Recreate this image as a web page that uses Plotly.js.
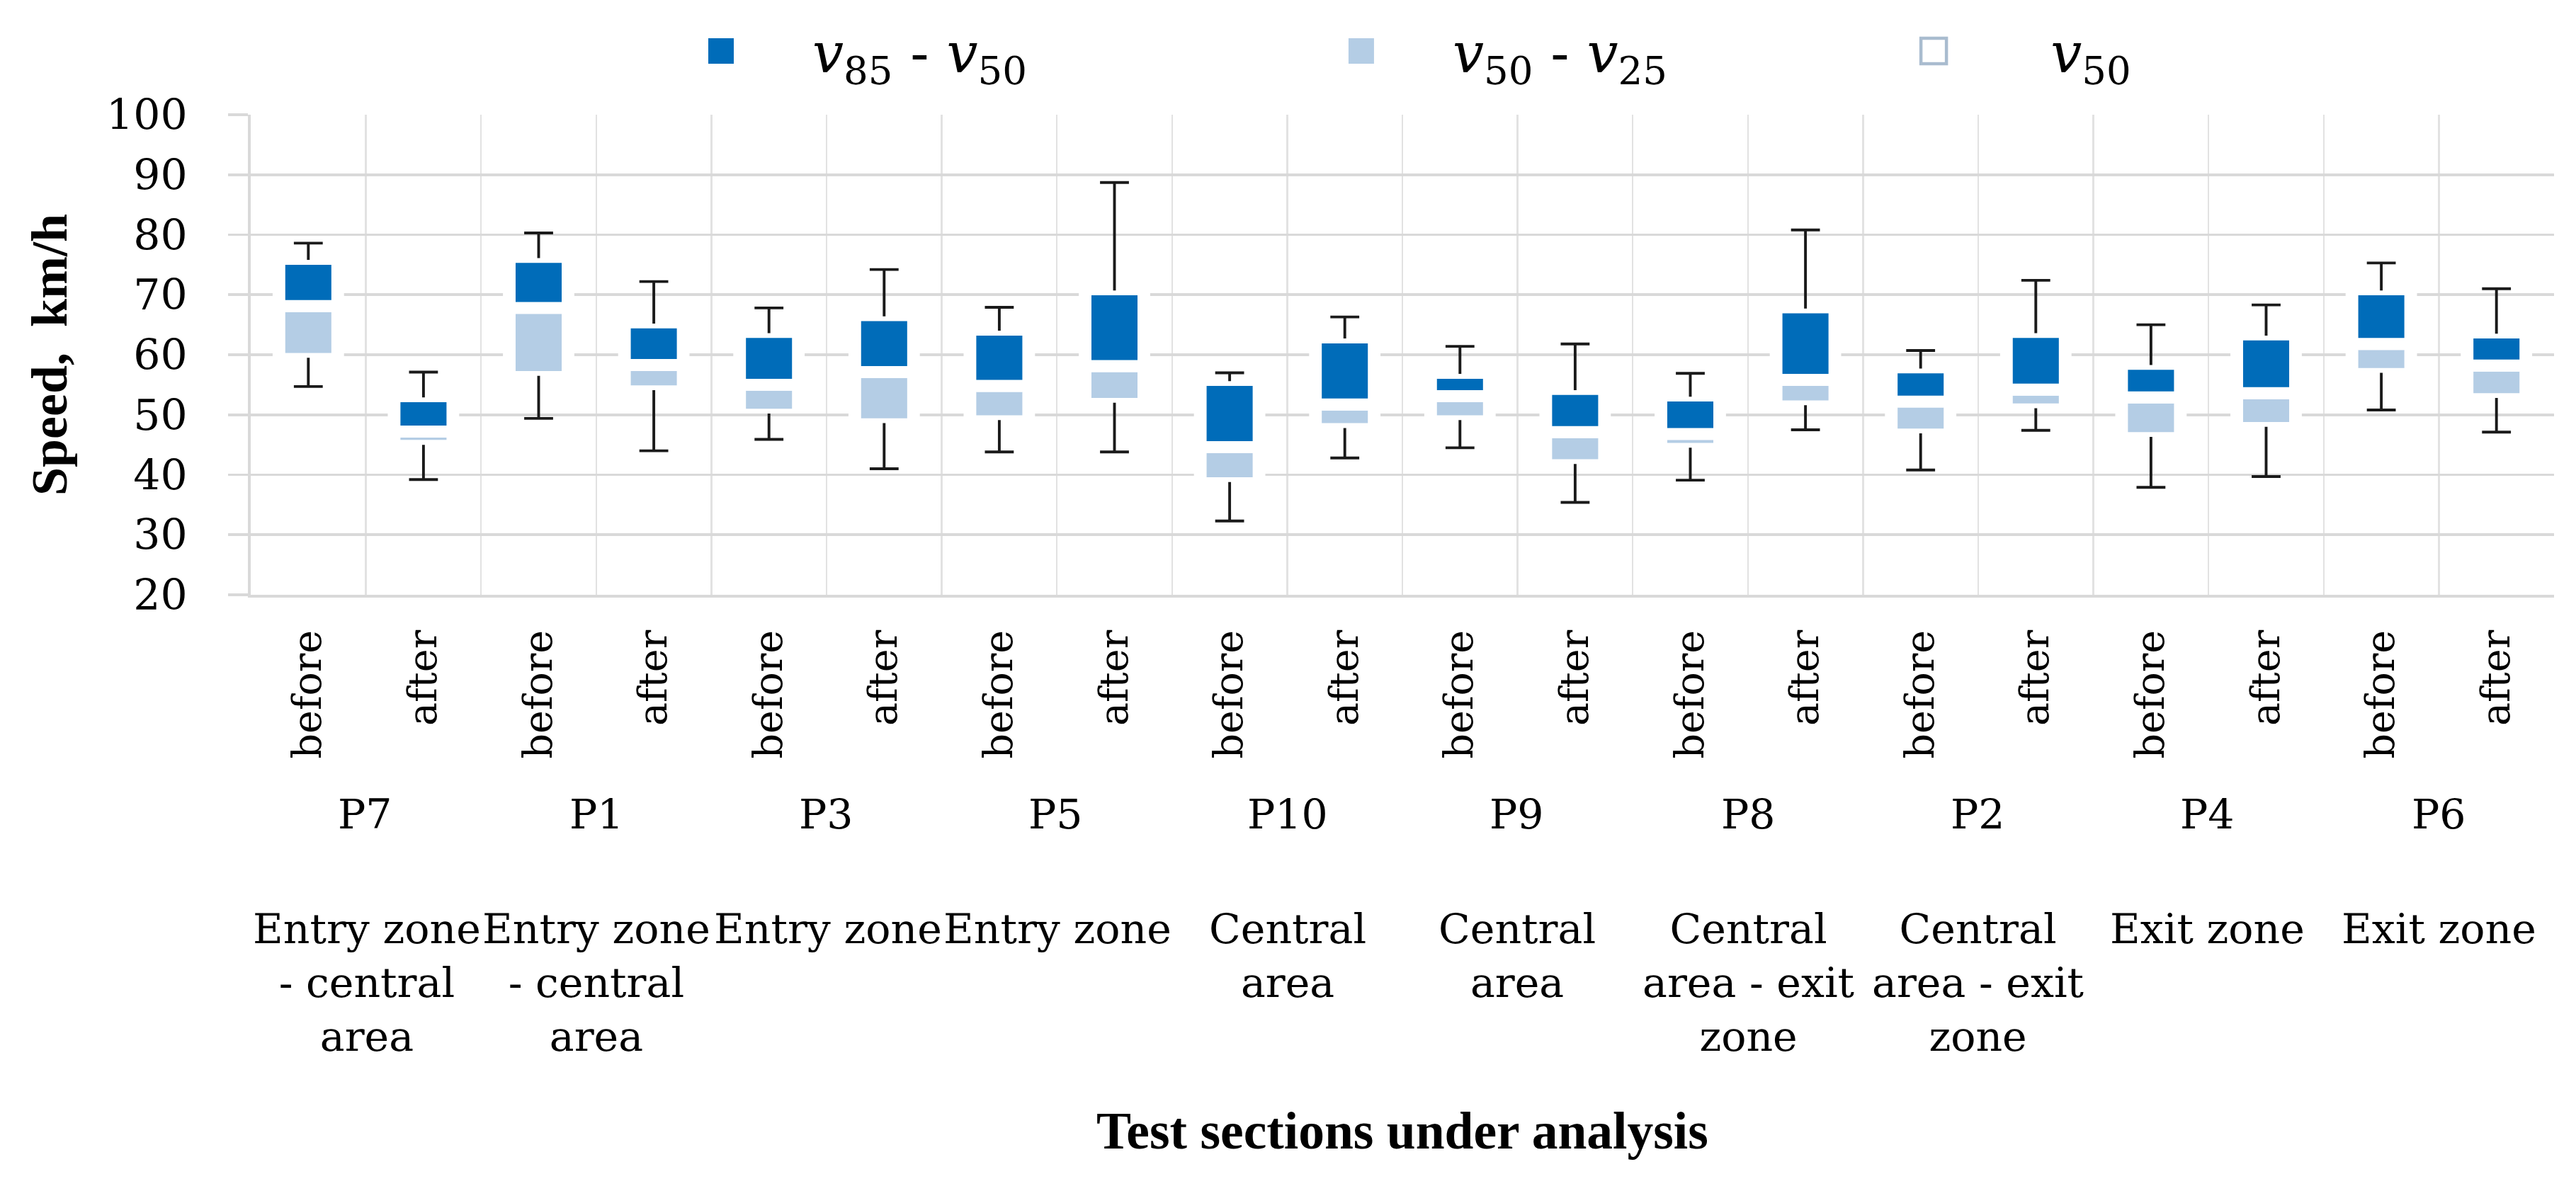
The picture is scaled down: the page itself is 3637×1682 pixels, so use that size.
<!DOCTYPE html>
<html>
<head>
<meta charset="utf-8">
<script src="https://cdn.plot.ly/plotly-3.0.1.min.js"></script>
<style>
html,body{margin:0;padding:0;background:#fff;width:3637px;height:1682px;overflow:hidden;}
#chart{width:1213px;height:561px;transform:scale(3);transform-origin:0 0;}
</style>
</head>
<body>
<div id="chart"></div>
<script>
// ---- data (km/h) ----
const sections = ['P7', 'P1', 'P3', 'P5', 'P10', 'P9', 'P8', 'P2', 'P4', 'P6'];
const zones = [
  'Entry zone<br>- central<br>area',
  'Entry zone<br>- central<br>area',
  'Entry zone',
  'Entry zone',
  'Central<br>area',
  'Central<br>area',
  'Central<br>area - exit<br>zone',
  'Central<br>area - exit<br>zone',
  'Exit zone',
  'Exit zone'
];
const phases = ['before', 'after', 'before', 'after', 'before', 'after', 'before', 'after', 'before', 'after',
                'before', 'after', 'before', 'after', 'before', 'after', 'before', 'after', 'before', 'after'];
const vMin = [54.7, 39.2, 49.4, 44.0, 45.9, 41.0, 43.8, 43.8, 32.3, 42.8,
              44.5, 35.4, 39.1, 47.5, 40.8, 47.4, 37.9, 39.7, 50.8, 47.1];
const v25  = [60.3, 45.8, 57.3, 54.9, 51.0, 49.4, 49.9, 52.8, 39.6, 48.6,
              49.9, 42.6, 45.3, 52.4, 47.7, 51.9, 47.1, 48.8, 57.8, 53.6];
const v50  = [67.1, 46.2, 66.8, 57.3, 54.0, 56.1, 53.8, 57.1, 43.6, 50.7,
              52.1, 46.1, 45.8, 54.8, 51.2, 53.2, 51.9, 52.6, 60.8, 57.2];
const v85  = [75.0, 52.1, 75.3, 64.4, 62.8, 65.6, 63.2, 69.9, 54.8, 61.9,
              56.0, 53.3, 52.2, 66.9, 56.9, 62.8, 57.5, 62.4, 69.9, 62.7];
const vMax = [78.6, 57.1, 80.3, 72.2, 67.8, 74.2, 67.9, 88.7, 57.0, 66.3,
              61.4, 61.8, 56.9, 80.8, 60.7, 72.4, 65.0, 68.3, 75.3, 71.0];
const medianBand = 2;    // height of the white v50 marker band

// ---- styles ----
const DARK = '#006cb9', LIGHT = '#b4cde5', GRID = '#d9d9d9';
const BAR_W = 0.4, HALO_W = 0.62, HALO_PAD = 0.8;
const TITLE_FONT = 'Liberation Serif';

const x = phases.map((_, i) => i);
const zeros = x.map(() => 0);
const bandArr = x.map(() => medianBand);
const boundaries = x.map(i => i - 0.5).concat([x.length - 0.5]);

const whiskerStyle = {color: '#1a1a1a', thickness: 1.3, width: 6.8};

const traces = [
  { // lower whisker
    type: 'bar', x: x, base: v25, y: zeros, width: BAR_W,
    marker: {color: 'rgba(0,0,0,0)'}, showlegend: false, hoverinfo: 'skip',
    error_y: Object.assign({type: 'data', symmetric: false, array: zeros,
      arrayminus: v25.map((q, i) => q - vMin[i])}, whiskerStyle)
  },
  { // upper whisker
    type: 'bar', x: x, base: v85, y: zeros, width: BAR_W,
    marker: {color: 'rgba(0,0,0,0)'}, showlegend: false, hoverinfo: 'skip',
    error_y: Object.assign({type: 'data', symmetric: false, arrayminus: zeros,
      array: vMax.map((m, i) => m - v85[i])}, whiskerStyle)
  },
  { // white halo behind each box
    type: 'bar', x: x, base: v25.map(q => q - HALO_PAD),
    y: v85.map((q, i) => q - v25[i] + 2 * HALO_PAD), width: HALO_W,
    marker: {color: '#ffffff', line: {width: 0}}, showlegend: false, hoverinfo: 'skip'
  },
  {
    type: 'bar', name: '<i>v</i><sub>50</sub> - <i>v</i><sub>25</sub>', legend: 'legend2',
    x: x, base: v25, y: v50.map((m, i) => m - v25[i]), width: BAR_W,
    marker: {color: LIGHT, line: {width: 0}}
  },
  {
    type: 'bar', name: '<i>v</i><sub>50</sub>', showlegend: false,
    x: x, base: v50, y: bandArr, width: BAR_W,
    marker: {color: '#ffffff', line: {width: 0}}
  },
  {
    type: 'bar', name: '<i>v</i><sub>85</sub> - <i>v</i><sub>50</sub>', legend: 'legend',
    x: x, base: v50.map(m => m + medianBand), y: v85.map((q, i) => q - v50[i] - medianBand), width: BAR_W,
    marker: {color: DARK, line: {width: 0}}
  },
  { // legend entry for the v50 marker band
    type: 'bar', name: '<i>v</i><sub>50</sub>', legend: 'legend3',
    x: [null], y: [null],
    marker: {color: '#ffffff', line: {color: '#a9bccf', width: 1.5}}
  }
];

const annotations = [];
sections.forEach((s, k) => {
  annotations.push({xref: 'x', yref: 'paper', x: 2 * k + 0.5, y: -0.46, text: s,
    showarrow: false, yanchor: 'middle', font: {size: 19.5}});
  annotations.push({xref: 'x', yref: 'paper', x: 2 * k + 0.5, y: -0.638, text: zones[k],
    showarrow: false, yanchor: 'top', align: 'center', font: {size: 19.5}});
});

function legendAt(xc, iw) {
  return {orientation: 'h', xref: 'container', yref: 'container',
    x: xc, xanchor: 'left', y: 0.957, yanchor: 'middle',
    font: {size: 26}, itemwidth: iw, bgcolor: 'rgba(0,0,0,0)'};
}

const layout = {
  width: 1213, height: 561,
  margin: {l: 118, r: 11, t: 54, b: 281},
  paper_bgcolor: '#ffffff', plot_bgcolor: '#ffffff',
  font: {family: 'DejaVu Serif', size: 19, color: '#000000'},
  barmode: 'overlay',
  showlegend: true,
  legend: legendAt(0.2443, 76),
  legend2: legendAt(0.4927, 76),
  legend3: legendAt(0.7049, 100),
  xaxis: {
    range: [-0.5, 19.5], tickmode: 'array', tickvals: x, ticktext: phases, tickangle: -90,
    showgrid: false, zeroline: false, showline: true, linecolor: GRID, linewidth: 1.2,
    ticks: '', ticklabelstandoff: 8, tickfont: {size: 18.5},
    minor: {tickmode: 'array', tickvals: boundaries, showgrid: true, gridcolor: '#e2e2e2', gridwidth: 0.8, ticks: ''},
    title: {text: 'Test sections under analysis', font: {family: TITLE_FONT, size: 24.5, weight: 700}, standoff: 167}
  },
  yaxis: {
    range: [20, 100], tick0: 20, dtick: 10, showgrid: true, gridcolor: GRID, gridwidth: 1.2,
    zeroline: false, showline: true, linecolor: GRID, linewidth: 1.3,
    ticks: 'outside', ticklen: 9.5, tickcolor: GRID, tickwidth: 1.2, ticklabelstandoff: 15,
    tickfont: {size: 20},
    title: {text: 'Speed,\u00a0 km/h', font: {family: TITLE_FONT, size: 24, weight: 700}, standoff: 11}
  },
  annotations: annotations
};

Plotly.newPlot('chart', traces, layout, {displayModeBar: false, staticPlot: true});
</script>
</body>
</html>
